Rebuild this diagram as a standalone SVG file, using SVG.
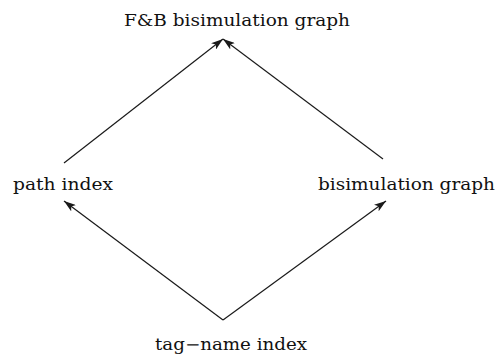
<svg xmlns="http://www.w3.org/2000/svg" width="499" height="356" viewBox="0 0 499 356">
  <style>
    .lbl { font-family: "DejaVu Serif", "Liberation Serif", serif; font-size: 16px; fill: #111; }
    .edge { stroke: #1a1a1a; stroke-width: 1.2; fill: none; marker-end: url(#arr); }
  </style>
  <defs>
    <marker id="arr" viewBox="0 0 12 8" refX="12" refY="4" markerWidth="12" markerHeight="8" markerUnits="userSpaceOnUse" orient="auto">
      <path d="M0,0 L12,4 L0,8 L3,4 Z" fill="#1a1a1a"/>
    </marker>
  </defs>
  <rect width="499" height="356" fill="#fff"/>
  <g id="connectors">
    <line class="edge" x1="64" y1="163" x2="223" y2="39"/>
    <line class="edge" x1="383" y1="159" x2="223" y2="39"/>
    <line class="edge" x1="223" y1="320" x2="64" y2="201"/>
    <line class="edge" x1="223" y1="320" x2="386" y2="201"/>
  </g>
  <g id="fb">
    <text class="lbl" x="124" y="26" textLength="226" lengthAdjust="spacingAndGlyphs">F&amp;B bisimulation graph</text>
  </g>
  <g id="path">
    <text class="lbl" x="13" y="190" textLength="100" lengthAdjust="spacingAndGlyphs">path index</text>
  </g>
  <g id="bisim">
    <text class="lbl" x="318" y="190" textLength="177" lengthAdjust="spacingAndGlyphs">bisimulation graph</text>
  </g>
  <g id="tagname">
    <text class="lbl" x="155" y="350" textLength="152" lengthAdjust="spacingAndGlyphs">tag−name index</text>
  </g>
</svg>
